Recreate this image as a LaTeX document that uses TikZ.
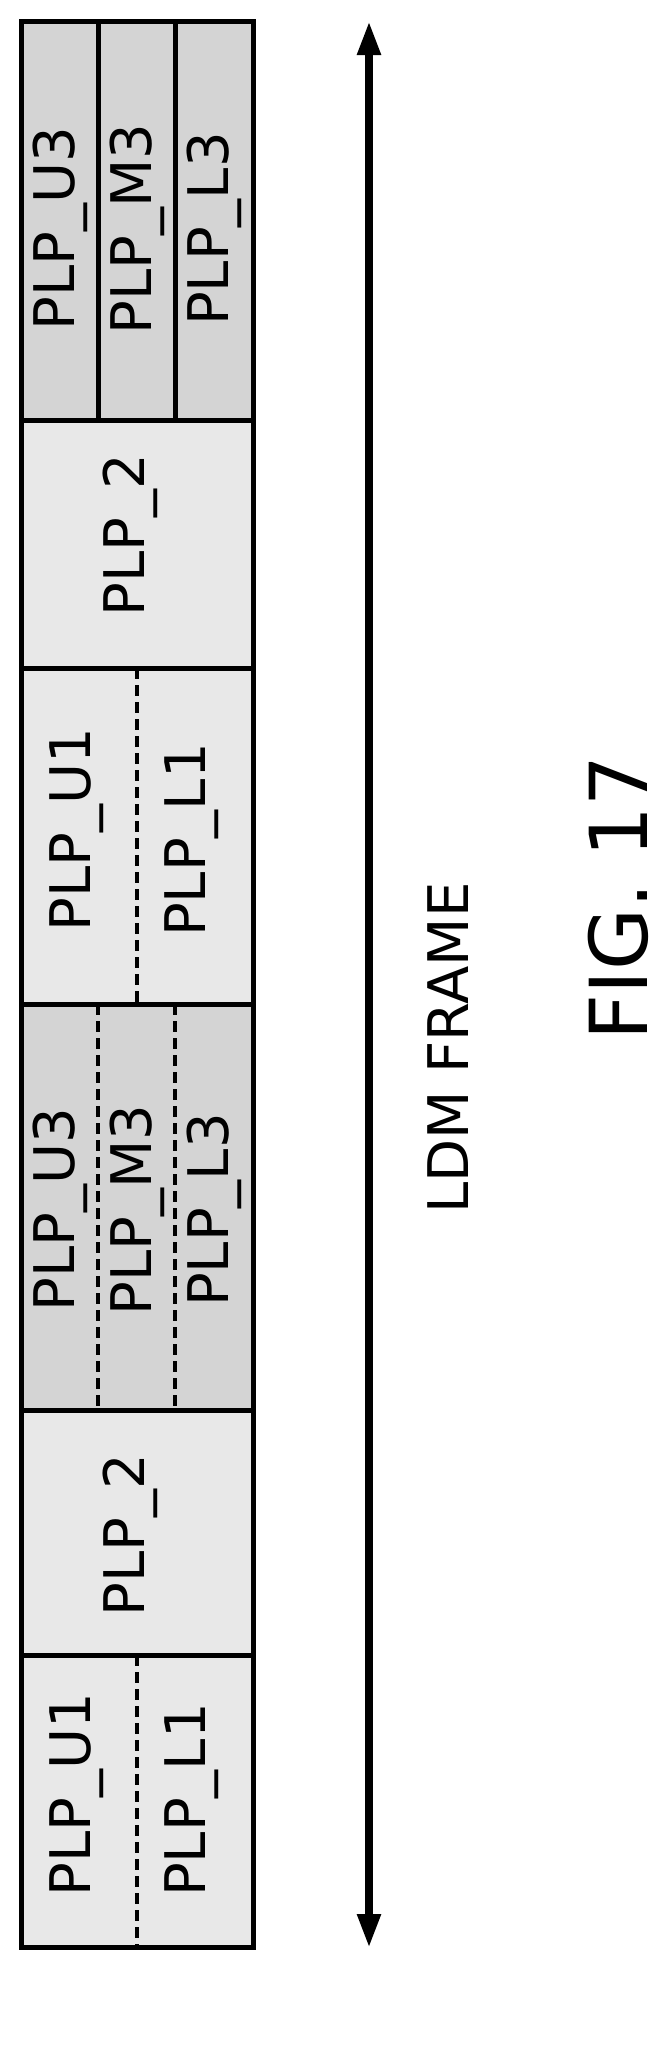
\documentclass[tikz,border=0pt]{standalone}
\usepackage{fontspec}
\setmainfont{DejaVu Sans}
\usetikzlibrary{arrows.meta}
\begin{document}
\begin{tikzpicture}[x=1pt,y=-1pt,
  seg/.style={draw=black,line width=5pt},
  dark/.style={fill=black!17},
  light/.style={fill=black!9},
  solidsep/.style={line width=5pt},
  dashsep/.style={line width=4pt,dash pattern=on 11pt off 6pt},
  lbl/.style={rotate=90,font=\fontsize{56}{64}\selectfont,inner sep=0pt}]
\useasboundingbox (0,0) rectangle (665,2048);
% segments
\path[dark]  (21,21) rectangle (253,420);
\path[light] (21,420) rectangle (253,668);
\path[light] (21,668) rectangle (253,1004);
\path[dark]  (21,1004) rectangle (253,1410);
\path[light] (21,1410) rectangle (253,1655);
\path[light] (21,1655) rectangle (253,1947);
% dividers
\draw[solidsep] (98,21) -- (98,420);
\draw[solidsep] (175,21) -- (175,420);
\draw[dashsep] (137,668) -- (137,1004);
\draw[dashsep] (98,1004) -- (98,1410);
\draw[dashsep] (175,1004) -- (175,1410);
\draw[dashsep] (137,1655) -- (137,1947);
\foreach \y in {420,668,1004,1410,1655} \draw[solidsep] (21,\y) -- (253,\y);
\draw[seg] (21,21) rectangle (253,1947);
% labels
\node[lbl] (u3a) at (60,229) {PLP\_U3};
\node[lbl] (m3a) at (137,229) {PLP\_M3};
\node[lbl] (l3a) at (214,229) {PLP\_L3};
\node[lbl] (p2a) at (130,535) {PLP\_2};
\node[lbl] (u1a) at (77,830) {PLP\_U1};
\node[lbl] (l1a) at (192,840) {PLP\_L1};
\node[lbl] (u3b) at (60,1210) {PLP\_U3};
\node[lbl] (m3b) at (137,1210) {PLP\_M3};
\node[lbl] (l3b) at (214,1210) {PLP\_L3};
\node[lbl] (p2b) at (130,1535) {PLP\_2};
\node[lbl] (u1b) at (77,1795) {PLP\_U1};
\node[lbl] (l1b) at (192,1800) {PLP\_L1};
% arrow
\coordinate (atop) at (369,21);
\coordinate (abot) at (369,1948);
\draw[line width=8pt,{Triangle[length=34pt,width=22pt]}-{Triangle[length=34pt,width=22pt]}] (atop) -- (abot);
\node[lbl] (ldm) at (448,1048) {LDM FRAME};
\node[rotate=90,font=\fontsize{80}{92}\selectfont,inner sep=0pt] (fig) at (618,898) {FIG. 17};
\end{tikzpicture}
\end{document}
